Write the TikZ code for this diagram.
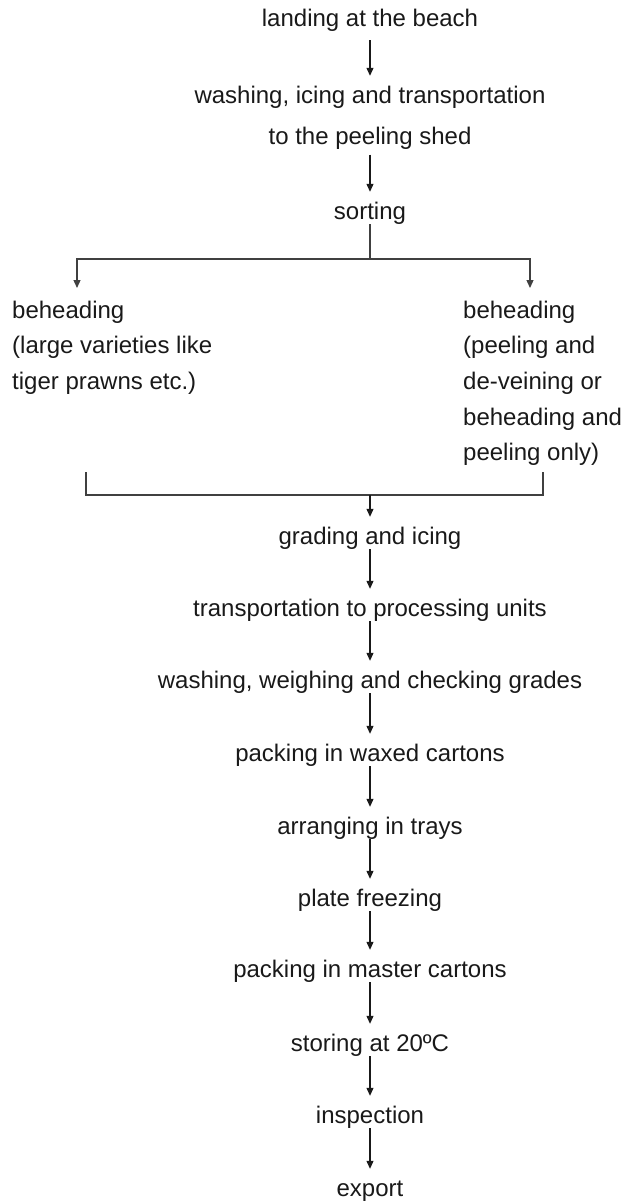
\documentclass[tikz,border=0pt]{standalone}
\usepackage{fontspec}
\setmainfont{Liberation Sans}
\usetikzlibrary{arrows.meta}

\tikzset{
  stage/.style={anchor=base, inner sep=0pt, text height=17pt, text depth=0pt,
    font=\fontsize{24}{36}\selectfont, text=black!90},
  twoline/.style={anchor=north, inner sep=0pt, align=center,
    font=\fontsize{24}{35.6}\selectfont, text=black!90},
  block/.style={anchor=north west, inner sep=0pt, align=left,
    font=\fontsize{24}{35.6}\selectfont, text=black!90},
  tip/.style={-{Triangle[length=8pt,width=7pt]}},
  flow/.style={tip, line width=1.1pt, black!90, shorten <=5pt, shorten >=10pt},
  link/.style={line width=1.3pt, black!75}
}

\begin{document}
\begin{tikzpicture}[x=1pt,y=1pt]
  \useasboundingbox (0,0) rectangle (626,-1202);

  \node[stage] (land) at (370,-26) {landing at the beach};
  \node[twoline] (wash) at (370,-85.8) {washing, icing and transportation\\[5.4pt] to the peeling shed};
  \node[stage] (sort) at (370,-219) {sorting};

  \node[block] (lb) at (12,-300.8) {beheading\\(large varieties like\\tiger prawns etc.)};
  \node[block] (rb) at (463,-300.8) {beheading\\(peeling and\\de-veining or\\beheading and\\peeling only)};

  \node[stage] (grade) at (370,-544) {grading and icing};
  \node[stage] (trans) at (370,-616) {transportation to processing units};
  \node[stage] (weigh) at (370,-688) {washing, weighing and checking grades};
  \node[stage] (waxed) at (370,-761) {packing in waxed cartons};
  \node[stage] (trays) at (370,-834) {arranging in trays};
  \node[stage] (plate) at (370,-906) {plate freezing};
  \node[stage] (master) at (370,-977) {packing in master cartons};
  \node[stage] (store) at (370,-1051) {storing at 20ºC};
  \node[stage] (insp) at (370,-1123) {inspection};
  \node[stage] (export) at (370,-1196) {export};

  % split after sorting, merge before grading
  \coordinate (split) at (370,-259);
  \coordinate (toL) at (77,-288);
  \coordinate (toR) at (530,-288);
  \coordinate (fromL) at (86,-472);
  \coordinate (fromR) at (543,-472);
  \coordinate (join) at (370,-495);

  \path[flow] (land) edge[shorten <=14pt] (wash);
  \path[flow] (wash) edge (sort);
  \draw[link, shorten <=5pt] (sort.south) -- (split);
  \draw[link, tip] (split) -| (toL);
  \draw[link, tip] (split) -| (toR);

  \draw[link] (fromL) |- (join) -| (fromR);
  \draw[flow, shorten <=0pt] (join) -- (grade.north);

  \path[flow] (grade) edge (trans);
  \path[flow] (trans) edge (weigh);
  \path[flow] (weigh) edge (waxed);
  \path[flow] (waxed) edge (trays);
  \path[flow] (trays) edge (plate);
  \path[flow] (plate) edge (master);
  \path[flow] (master) edge (store);
  \path[flow] (store) edge (insp);
  \path[flow] (insp) edge (export);
\end{tikzpicture}
\end{document}
